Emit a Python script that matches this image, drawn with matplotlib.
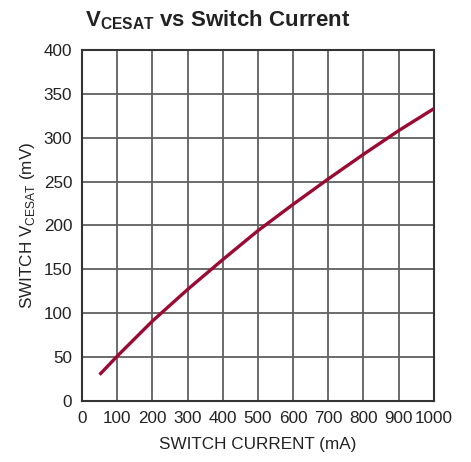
import matplotlib
matplotlib.use("Agg")
import matplotlib.pyplot as plt

# data
current_ma = [50, 100, 200, 300, 400, 500, 600, 700, 800, 900, 1000]
vcesat_mv = [30, 51, 91, 127, 161, 194, 224, 253, 281, 308, 333]

xticks = list(range(0, 1001, 100))
yticks = list(range(0, 401, 50))

plt.rcParams['font.family'] = ['Liberation Sans', 'DejaVu Sans']
plt.rcParams['mathtext.fontset'] = 'custom'
plt.rcParams['mathtext.rm'] = 'Liberation Sans'
plt.rcParams['mathtext.bf'] = 'Liberation Sans:bold'

fig = plt.figure(figsize=(4.71, 4.62), dpi=100)
ax = fig.add_axes([0.174, 0.132, 0.747, 0.760])

ax.plot(current_ma, vcesat_mv, color='#9b0a32', lw=2.4, solid_capstyle='butt', zorder=3)

ax.set_xlim(0, 1000)
ax.set_ylim(0, 400)
ax.set_xticks(xticks)
ax.set_yticks(yticks)
ax.tick_params(length=0, labelsize=12.3, colors='#222222', pad=7)
ax.grid(True, color='#606060', lw=1.3)
for s in ax.spines.values():
    s.set_color('#333333')
    s.set_linewidth(1.5)

ax.set_xlabel('SWITCH CURRENT (mA)', fontsize=12.3, color='#222222', labelpad=8)
ax.set_ylabel(r'SWITCH V$_{\mathrm{CESAT}}$ (mV)', fontsize=12.3, color='#222222', labelpad=5)

fig.text(0.180, 0.943, r'V$_{\mathbf{CESAT}}$ vs Switch Current', fontsize=16,
         fontweight='bold', color='#222222', ha='left', va='baseline')

fig.savefig('out.png', dpi=100)
